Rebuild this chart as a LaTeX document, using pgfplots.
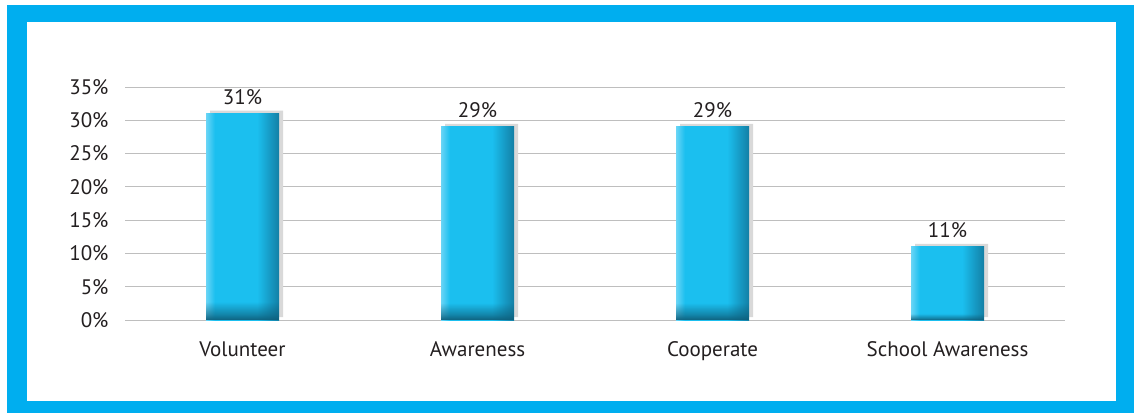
\documentclass[border=0pt]{standalone}
\usepackage{pgfplots}
\pgfplotsset{compat=1.18}
\usepackage{fontspec}
\setmainfont{PT Sans}
\usetikzlibrary{fadings}
\definecolor{frameblue}{HTML}{00AEEF}
\definecolor{barmain}{HTML}{1BBFEF}
\definecolor{barlight}{HTML}{6AD5F6}
\definecolor{bardark}{HTML}{137FA5}
\definecolor{shadowgray}{HTML}{D9D9D9}
\definecolor{gridgray}{HTML}{BEBEBE}
\definecolor{txt}{HTML}{231F20}
\pgfdeclarehorizontalshading{barsh}{100bp}{color(0bp)=(barlight); color(25bp)=(barlight); color(31bp)=(barmain); color(60bp)=(barmain); color(75bp)=(bardark); color(100bp)=(bardark)}
\pgfdeclareverticalshading{bdfadesh}{100bp}{color(0bp)=(white); color(25bp)=(white); color(26.5bp)=(white!60!black); color(29.5bp)=(black); color(100bp)=(black)}
\pgfdeclarefading{bdfade}{\pgfuseshading{bdfadesh}}
\pgfplotstableread{
x v
0 31
1 29
2 29
3 11
}\datatable
\newcommand{\onebar}[2]{%
\addplot[ybar, bar width=73bp, bar shift=0bp, draw=none,
  shading=barsh] coordinates {(#1,#2)};
\addplot[ybar, bar width=73bp, bar shift=0bp, draw=none, fill=black!25!bardark,
  path fading=bdfade, fit fading=true] coordinates {(#1,#2)};
}
\begin{document}
\begin{tikzpicture}[x=1bp,y=1bp]
\fill[white] (0,0) rectangle (1134,417);
\fill[frameblue] (7,4) rectangle (1134,412);
\fill[white] (27,16) rectangle (1116,395);
\begin{axis}[
  at={(125bp,97bp)}, anchor=south west,
  scale only axis, width=940bp, height=233bp,
  xmin=-0.5, xmax=3.5, ymin=0, ymax=35,
  xtick={0,1,2,3}, xticklabels={Volunteer,Awareness,Cooperate,School Awareness},
  ytick={0,5,...,35},
  yticklabel={\pgfmathprintnumber{\tick}\%},
  /pgf/number format/assume math mode=true,
  axis line style={draw=none},
  major tick length=0pt,
  ymajorgrids, major grid style={gridgray, line width=0.9bp},
  tick label style={font=\fontsize{21bp}{24bp}\selectfont, text=txt},
  yticklabel style={anchor=east, xshift=-13bp},
  xticklabel style={anchor=base, yshift=-36bp},
  clip=false,
]
\addplot[ybar, bar width=73bp, bar shift=4bp, fill=shadowgray, draw=none,
  transform canvas={yshift=3bp}] table[x=x,y=v]{\datatable};
\onebar{0}{31}
\onebar{1}{29}
\onebar{2}{29}
\onebar{3}{11}
\addplot[only marks, mark=none,
  nodes near coords={\pgfmathprintnumber{\pgfplotspointmeta}\%},
  every node near coord/.append style={anchor=base, yshift=9.5bp, text=txt, font=\fontsize{21bp}{24bp}\selectfont},
  /pgf/number format/assume math mode=true
  ] table[x=x,y=v]{\datatable};
\end{axis}
\end{tikzpicture}
\end{document}
